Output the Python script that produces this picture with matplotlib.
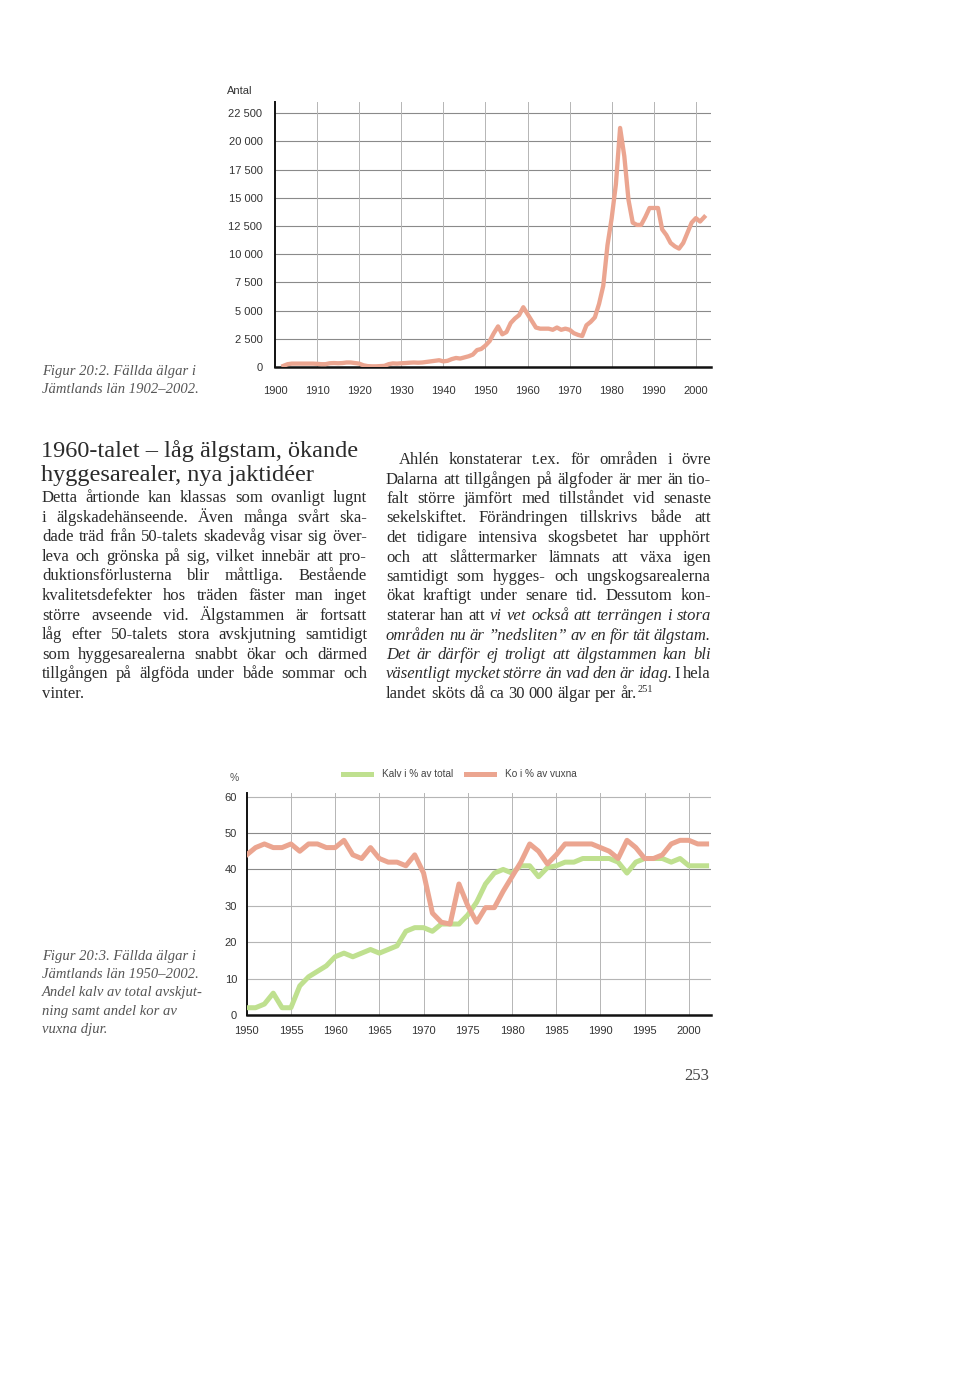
import numpy as np
import matplotlib
matplotlib.use('Agg')
import matplotlib.pyplot as plt

# Fällda älgar i Jämtlands län 1902-2002 (antal)
years_total = list(range(1902, 2003))
moose_total = [100, 250, 300, 300, 300, 300, 300, 300,            # 1902-1909
               280, 250, 250, 330, 350, 330, 350, 400, 400, 350,  # 1910-1919
               300, 150, 80, 60, 60, 80, 100, 250, 320, 300,      # 1920-1929
               330, 350, 380, 400, 380, 400, 450, 500, 550, 600,  # 1930-1939
               500, 550, 700, 800, 750, 850, 950, 1100, 1500, 1600,  # 1940-1949
               1900, 2300, 3000, 3600, 2900, 3100, 3900, 4300, 4600, 5300,  # 1950-1959
               4700, 4100, 3500, 3400, 3400, 3400, 3300, 3500, 3300, 3400,  # 1960-1969
               3300, 3000, 2850, 2750, 3700, 4000, 4400, 5600, 7200, 10800,  # 1970-1979
               13200, 16200, 21200, 18700, 14800, 12800, 12600, 12600, 13300, 14100,  # 1980-1989
               14100, 14100, 12200, 11700, 11000, 10700, 10500, 11000, 11900, 12800,  # 1990-1999
               13200, 12900, 13300]                                 # 2000-2002
yticks_total = [0, 2500, 5000, 7500, 10000, 12500, 15000, 17500, 20000, 22500]
ylabels_total = ['0', '2 500', '5 000', '7 500', '10 000', '12 500', '15 000',
                 '17 500', '20 000', '22 500']
xticks_total = list(range(1900, 2001, 10))

# Andel kalv / kor 1950-2002 (%)
years_share = list(range(1950, 2003))
kalv = [2, 2, 3, 6, 2, 2, 8, 10.5, 12, 13.5,
        16, 17, 16, 17, 18, 17, 18, 19, 23, 24,
        24, 23, 25, 25, 25, 27.5, 31, 36, 39, 40,
        39, 41, 41, 38, 40.5, 41, 42, 42, 43, 43,
        43, 43, 42, 39, 42, 43, 43, 43, 42, 43,
        41, 41, 41]
ko = [44, 46, 47, 46, 46, 47, 45, 47, 47, 46,
      46, 48, 44, 43, 46, 43, 42, 42, 41, 44,
      39, 28, 25.5, 25, 36, 30, 25.5, 29.5, 29.5, 34,
      38, 42, 47, 45, 41.5, 44, 47, 47, 47, 47,
      46, 45, 43, 48, 46, 43, 43, 44, 47, 48,
      48, 47, 47]
series_labels = ['Kalv i % av total', 'Ko i % av vuxna']
xticks_share = list(range(1950, 2001, 5))
yticks_share = [0, 10, 20, 30, 40, 50, 60]

heading = ['1960-talet – låg älgstam, ökande', 'hyggesarealer, nya jaktidéer']
left_col = [
    'Detta årtionde kan klassas som ovanligt lugnt',
    'i älgskadehänseende. Även många svårt ska-',
    'dade träd från 50-talets skadevåg visar sig över-',
    'leva och grönska på sig, vilket innebär att pro-',
    'duktionsförlusterna blir måttliga. Bestående',
    'kvalitetsdefekter hos träden fäster man inget',
    'större avseende vid. Älgstammen är fortsatt',
    'låg efter 50-talets stora avskjutning samtidigt',
    'som hyggesarealerna snabbt ökar och därmed',
    'tillgången på älgföda under både sommar och',
    'vinter.',
]
right_col = [
    'Ahlén konstaterar t.ex. för områden i övre',
    'Dalarna att tillgången på älgfoder är mer än tio-',
    'falt större jämfört med tillståndet vid senaste',
    'sekelskiftet. Förändringen tillskrivs både att',
    'det tidigare intensiva skogsbetet har upphört',
    'och att slåttermarker lämnats att växa igen',
    'samtidigt som hygges- och ungskogsarealerna',
    'ökat kraftigt under senare tid. Dessutom kon-',
    'staterar han att *vi vet också att terrängen i stora*',
    '*områden nu är ”nedsliten” av en för tät älgstam.*',
    '*Det är därför ej troligt att älgstammen kan bli*',
    '*väsentligt mycket större än vad den är idag.* I hela',
    'landet sköts då ca 30 000 älgar per år.',
]
caption1 = ['Figur 20:2. Fällda älgar i', 'Jämtlands län 1902–2002.']
caption2 = ['Figur 20:3. Fällda älgar i', 'Jämtlands län 1950–2002.',
            'Andel kalv av total avskjut-', 'ning samt andel kor av', 'vuxna djur.']

W, H = 960, 1375
SERIF = 'Liberation Serif'
SANS = 'Liberation Sans'
TXT = '#2b2b2b'
RED = '#eba590'
GREEN = '#bfe08f'
BODY = 12

fig = plt.figure(figsize=(W / 100, H / 100), dpi=100)
fig.patch.set_facecolor('white')


def fx(x):
    return x / W


def fy(y):
    return 1 - y / H


def style_axes(ax):
    for s in ['top', 'right']:
        ax.spines[s].set_visible(False)
    ax.spines['left'].set_linewidth(1.4)
    ax.spines['bottom'].set_linewidth(1.8)
    ax.spines['left'].set_color('#111')
    ax.spines['bottom'].set_color('#111')
    ax.tick_params(length=0, labelsize=8, labelcolor='#333')
    for lab in ax.get_xticklabels() + ax.get_yticklabels():
        lab.set_family(SANS)


# %% top chart
ax1 = fig.add_axes([fx(275), fy(367), fx(711) - fx(275), fy(102) - fy(367)])
ax1.set_xlim(1900, 2003.6)
ax1.set_ylim(0, 23500)
ax1.set_xticks(xticks_total)
ax1.set_yticks(yticks_total)
ax1.set_yticklabels(ylabels_total)
for v in yticks_total[1:]:
    ax1.axhline(v, color='#8a8a8a', lw=0.8, zorder=1)
for v in xticks_total[1:]:
    ax1.axvline(v, color='#b5b5b5', lw=0.7, zorder=1)
ax1.plot(years_total, moose_total, color=RED, lw=3.1, solid_joinstyle='round', zorder=3)
style_axes(ax1)
ax1.tick_params(axis='y', pad=9)
ax1.tick_params(axis='x', pad=14)
fig.text(fx(227), fy(91), 'Antal', fontsize=8, family=SANS, color='#333', va='center')

# %% bottom chart
ax2 = fig.add_axes([fx(246.7), fy(1015), fx(711) - fx(246.7), fy(793) - fy(1015)])
ax2.set_xlim(1950, 2002.5)
ax2.set_ylim(0, 61)
ax2.set_xticks(xticks_share)
ax2.set_yticks(yticks_share)
for v in yticks_share[1:]:
    ax2.axhline(v, color='#8a8a8a' if v in (40, 50) else '#b5b5b5', lw=0.8, zorder=1)
for v in xticks_share[1:]:
    ax2.axvline(v, color='#b5b5b5', lw=0.7, zorder=1)
l1, = ax2.plot(years_share, kalv, color=GREEN, lw=3.6, label=series_labels[0], zorder=3)
l2, = ax2.plot(years_share, ko, color=RED, lw=3.6, label=series_labels[1], zorder=4)
style_axes(ax2)
ax2.tick_params(axis='y', pad=7)
ax2.tick_params(axis='x', pad=8)
fig.text(fx(234), fy(778), '%', fontsize=7.5, family=SANS, color='#555', va='center', ha='center')
fig.legend(handles=[l1, l2], loc='center left', bbox_to_anchor=(fx(343), fy(774)),
           ncol=2, frameon=False, prop={'family': SANS, 'size': 7.2},
           handlelength=2.8, handletextpad=1.1, columnspacing=1.3,
           borderpad=0, borderaxespad=0, labelcolor='#444')

# %% text
renderer = fig.canvas.get_renderer()


def parse(line):
    out = []
    it = False
    for w in line.split(' '):
        if w.startswith('*'):
            it = True
            w = w[1:]
        end = w.endswith('*')
        if end:
            w = w[:-1]
        out.append((w, 'italic' if it else 'normal'))
        if end:
            it = False
    return out


def text_line(line, x0, x1, y, size=BODY, justify=True):
    words = parse(line)
    texts = [fig.text(fx(x0), fy(y), w, fontsize=size, style=st, family=SERIF,
                      color=TXT, va='baseline') for w, st in words]
    widths = [t.get_window_extent(renderer).width for t in texts]
    if justify and len(texts) > 1:
        gap = (x1 - x0 - sum(widths)) / (len(texts) - 1)
    else:
        gap = size * 1.389 * 0.25
    x = x0
    for t, w in zip(texts, widths):
        t.set_x(fx(x))
        x += w + gap
    return x - gap


for i, line in enumerate(heading):
    fig.text(fx(41), fy(457 + i * 24), line, fontsize=17.5, family=SERIF, color=TXT, va='baseline')

for i, line in enumerate(left_col):
    text_line(line, 42, 367, 502 + i * 19.6, justify=i < len(left_col) - 1)

for i, line in enumerate(right_col):
    x0 = 399 if i == 0 else 386
    xe = text_line(line, x0, 711, 464 + i * 19.5, justify=i < len(right_col) - 1)
fig.text(fx(xe + 1), fy(464 + 12 * 19.5 - 6), '251', fontsize=7.5, family=SERIF, color=TXT, va='baseline')

for i, line in enumerate(caption1):
    fig.text(fx(42), fy(375 + i * 18), line, fontsize=10.5, style='italic', family=SERIF,
             color='#555', va='baseline')
for i, line in enumerate(caption2):
    fig.text(fx(42), fy(960 + i * 18.2), line, fontsize=10.5, style='italic', family=SERIF,
             color='#555', va='baseline')

fig.text(fx(697), fy(1076), '253', fontsize=12, family=SERIF, color='#444', ha='center', va='center')

fig.savefig('out.png', dpi=100, facecolor='white')
